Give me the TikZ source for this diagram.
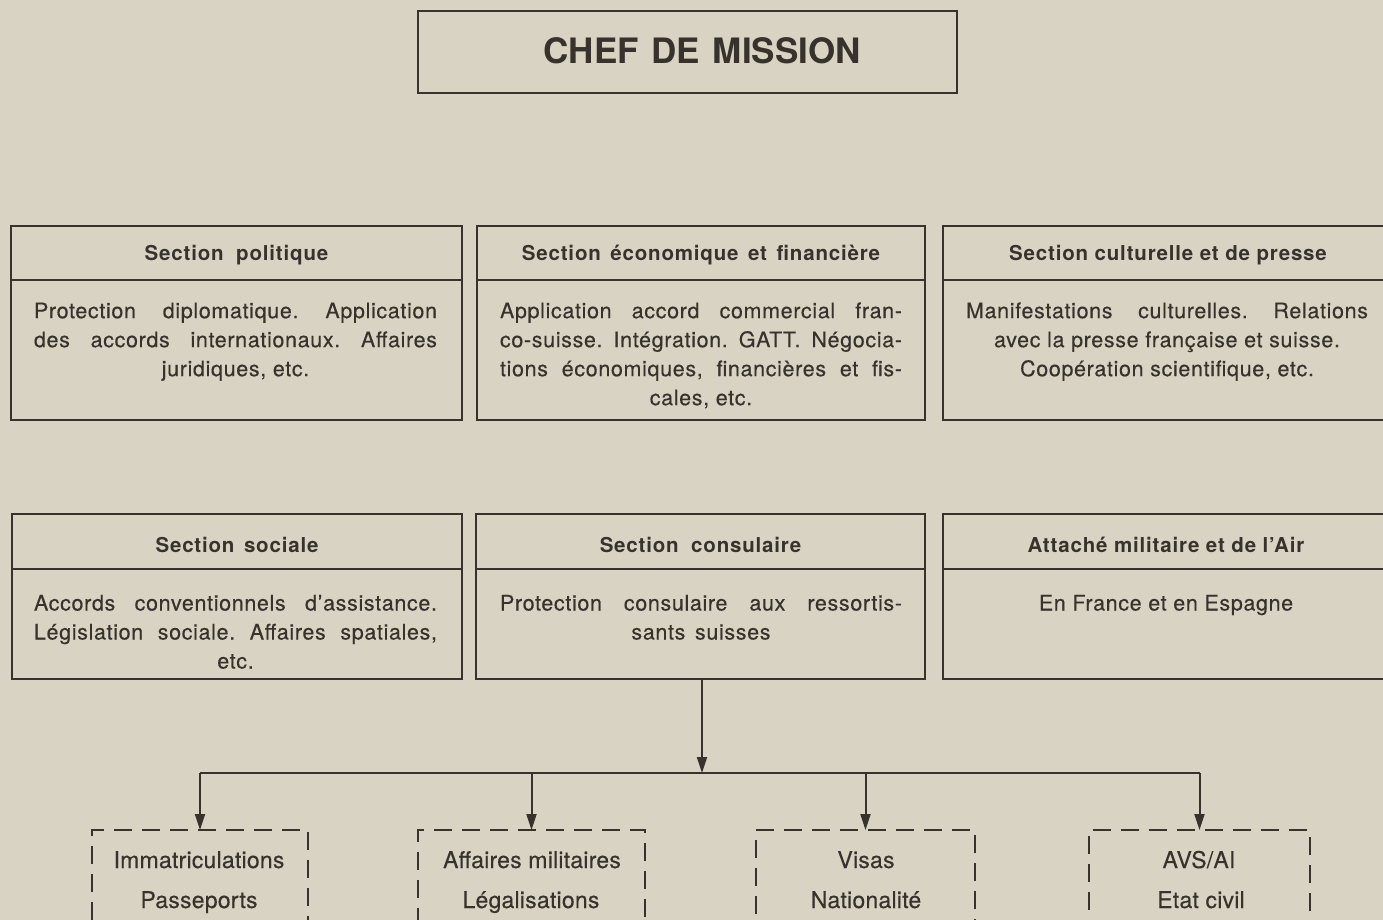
\documentclass[tikz,border=0pt]{standalone}
\usepackage{fontspec}
\setmainfont{TeX Gyre Heros}[LetterSpace=3]
\newfontfamily\bodyfont{TeX Gyre Heros}[LetterSpace=3, FakeBold=0.3]
\newfontfamily\hdrfont{TeX Gyre Heros}[LetterSpace=4]
\newfontfamily\titlefont{TeX Gyre Heros}[LetterSpace=0]
\newfontfamily\subfont{TeX Gyre Heros}[LetterSpace=1, FakeBold=0.3]
\usetikzlibrary{arrows.meta}
\definecolor{paper}{RGB}{216,211,195}
\definecolor{ink}{RGB}{55,50,44}
\frenchspacing
\begin{document}
\begin{tikzpicture}[x=1pt,y=-1pt,
  box/.style={draw=ink, line width=2pt, rectangle, inner sep=0pt, outer sep=0pt},
  dbox/.style={draw=ink, line width=2pt, rectangle, dash pattern=on 18pt off 10pt, inner sep=0pt, outer sep=0pt},
  hdr/.style={font=\hdrfont\fontsize{20.5}{24}\bfseries\selectfont, text=ink, anchor=base, inner sep=0pt},
  body/.style={font=\bodyfont\fontsize{21.5}{29}\selectfont\frenchspacing, text=ink, anchor=north, inner sep=0pt, align=center},
  title/.style={font=\titlefont\fontsize{35}{40}\bfseries\selectfont, text=ink, anchor=base, inner sep=0pt},
  sub/.style={font=\subfont\fontsize{23}{28}\selectfont, text=ink, anchor=base, inner sep=0pt},
  link/.style={draw=ink, line width=2pt},
  arr/.style={draw=ink, line width=2pt, -{Triangle[length=16pt,width=10pt]}}
]
\useasboundingbox (0,0) rectangle (1383,920);
\fill[paper] (0,0) rectangle (1383,920);
\clip (0,0) rectangle (1383,920);

% title
\node[box, minimum width=539pt, minimum height=82pt] (chef) at (687.5,52) {};
\node[title] (chefT) at (702,64) {CHEF\hspace{3pt} DE\hspace{3pt} MISSION};

% row 1
\node[box, minimum width=451pt, minimum height=54pt] (polH) at (236.5,253) {};
\node[box, minimum width=451pt, minimum height=140pt, anchor=north] (polB) at (polH.south) {};
\node[hdr] (polT) at (236.5,260.5) {Section\hspace{6pt} politique};
\node[body] (polX) at (235.5,297.7) {\strut\makebox[403pt][s]{Protection diplomatique. Application}\\
  \makebox[403pt][s]{des accords internationaux. Affaires}\\ juridiques, etc.};

\node[box, minimum width=448pt, minimum height=54pt] (ecoH) at (701,253) {};
\node[box, minimum width=448pt, minimum height=140pt, anchor=north] (ecoB) at (ecoH.south) {};
\node[hdr] (ecoT) at (701,260.5) {Section\hspace{3pt} économique\hspace{3pt} et\hspace{3pt} financière};
\node[body] (ecoX) at (701,297.7) {\strut\makebox[402pt][s]{Application accord commercial fran-}\\
  \makebox[402pt][s]{co-suisse. Intégration. GATT. Négocia-}\\
  \makebox[402pt][s]{tions économiques, financières et fis-}\\ cales, etc.};

\node[box, minimum width=450pt, minimum height=54pt] (culH) at (1168,253) {};
\node[box, minimum width=450pt, minimum height=140pt, anchor=north] (culB) at (culH.south) {};
\node[hdr] (culT) at (1168,260.5) {Section culturelle et de presse};
\node[body] (culX) at (1167,297.7) {\strut\makebox[402pt][s]{Manifestations culturelles. Relations}\\
  avec la presse française et suisse.\\ Coopération scientifique, etc.};

% row 2
\node[box, minimum width=450pt, minimum height=55pt] (socH) at (237,541.5) {};
\node[box, minimum width=450pt, minimum height=110pt, anchor=north] (socB) at (socH.south) {};
\node[hdr] (socT) at (237,552.5) {Section\hspace{3pt} sociale};
\node[body] (socX) at (235.5,590) {\strut\makebox[403pt][s]{Accords conventionnels d’assistance.}\\
  \makebox[403pt][s]{Législation sociale. Affaires spatiales,}\\ etc.};

\node[box, minimum width=449pt, minimum height=55pt] (conH) at (700.5,541.5) {};
\node[box, minimum width=449pt, minimum height=110pt, anchor=north] (conB) at (conH.south) {};
\node[hdr] (conT) at (700.5,552.5) {Section\hspace{6pt} consulaire};
\node[body] (conX) at (701,590) {\strut\makebox[402pt][s]{Protection consulaire aux ressortis-}\\
  sants\hspace{3pt} suisses};

\node[box, minimum width=450pt, minimum height=55pt] (milH) at (1168,541.5) {};
\node[box, minimum width=450pt, minimum height=110pt, anchor=north] (milB) at (milH.south) {};
\node[hdr] (milT) at (1166,552.5) {Attaché militaire et de l’Air};
\node[body] (milX) at (1166,590) {\strut En France et en Espagne};

% dashed sub-boxes
\node[dbox, minimum width=216pt, minimum height=140pt, anchor=north] (immB) at (200,830) {};
\node[dbox, minimum width=227pt, minimum height=140pt, anchor=north] (affB) at (531.5,830) {};
\node[dbox, minimum width=219pt, minimum height=140pt, anchor=north] (visB) at (865.5,830) {};
\node[dbox, minimum width=221pt, minimum height=140pt, anchor=north] (avsB) at (1199.5,830) {};

\node[sub] (immT1) at (199,868) {Immatriculations};
\node[sub] (immT2) at (199,908) {Passeports};
\node[sub] (affT1) at (532,868) {Affaires militaires};
\node[sub] (affT2) at (531,908) {Légalisations};
\node[sub] (visT1) at (866,868) {Visas};
\node[sub] (visT2) at (866,908) {Nationalité};
\node[sub] (avsT1) at (1199,868) {AVS/AI};
\node[sub] (avsT2) at (1201,908) {Etat civil};

% connectors
\coordinate (bus) at (702,773);
\draw[arr] (conB.south -| bus) -- (bus);
\draw[link] (immB.north |- bus) -- (avsB.north |- bus);
\draw[arr] (immB.north |- bus) -- (immB.north);
\draw[arr] (affB.north |- bus) -- (affB.north);
\draw[arr] (visB.north |- bus) -- (visB.north);
\draw[arr] (avsB.north |- bus) -- (avsB.north);
\end{tikzpicture}
\end{document}
